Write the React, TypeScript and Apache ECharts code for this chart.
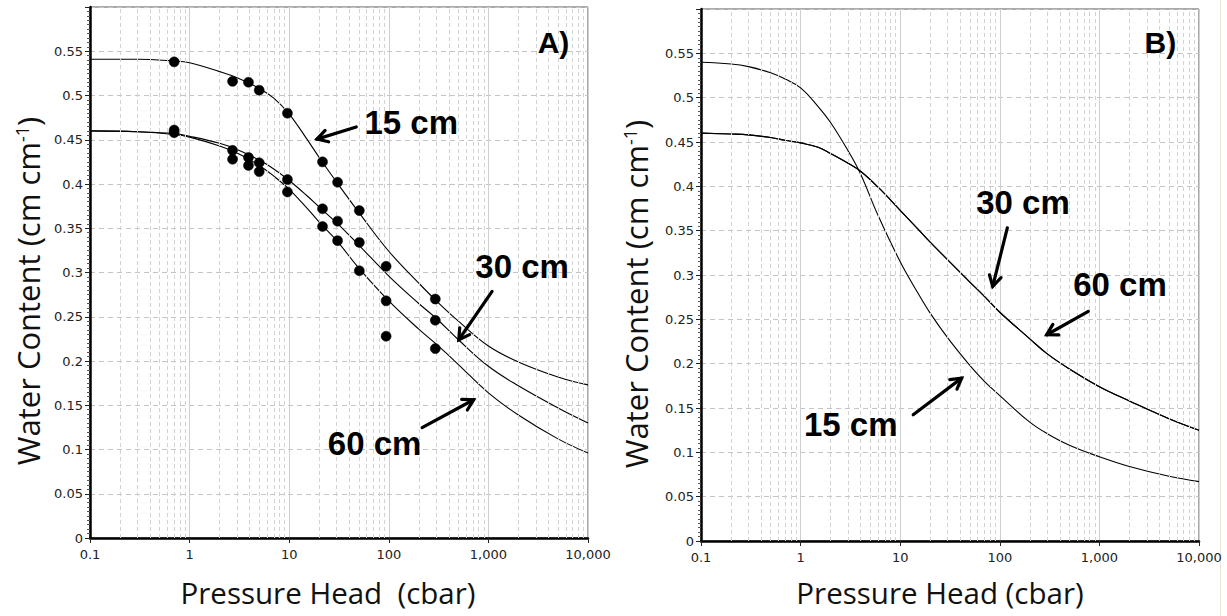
import React, { useEffect, useRef } from 'react';
import * as echarts from 'echarts';

// Pressure-axis decades and the minor grid multipliers inside each decade
const decades = [0.1, 1, 10, 100, 1000];
const minorSteps = [2, 3, 4, 5, 6, 7, 8, 9];

// Panel A: fitted retention curves (pressure head in cbar)
const fitHeadA = [0.1, 0.3, 0.7, 1, 2, 3, 5, 7, 10, 15, 20, 30, 50, 100, 200, 300, 500, 1000, 2000, 5000, 10000];
const fitA15 = [0.541, 0.541, 0.539, 0.537, 0.527, 0.52, 0.508, 0.497, 0.479, 0.451, 0.43, 0.402, 0.368, 0.324, 0.288, 0.268, 0.245, 0.217, 0.199, 0.182, 0.173];
const fitA30 = [0.46, 0.459, 0.457, 0.454, 0.446, 0.439, 0.427, 0.417, 0.404, 0.387, 0.374, 0.356, 0.331, 0.296, 0.265, 0.248, 0.224, 0.194, 0.172, 0.147, 0.13];
const fitA60 = [0.46, 0.459, 0.456, 0.453, 0.443, 0.435, 0.421, 0.409, 0.394, 0.373, 0.357, 0.336, 0.305, 0.268, 0.236, 0.219, 0.196, 0.164, 0.139, 0.112, 0.096];

// Panel A: measured water contents
const sampleHeadA = [0.7, 2.7, 3.9, 5.0, 9.6, 21.6, 30.6, 50.6, 94, 293];
const measured15 = [0.538, 0.516, 0.515, 0.506, 0.48, 0.425, 0.402, 0.37, 0.307, 0.27];
const measured30 = [0.461, 0.438, 0.43, 0.424, 0.405, 0.372, 0.358, 0.334, 0.268, 0.246];
const measured60 = [0.458, 0.428, 0.421, 0.414, 0.391, 0.352, 0.336, 0.302, 0.228, 0.214];

// Panel B: predicted curves (30 cm and 60 cm coincide)
const fitHeadB = [0.1, 0.2, 0.3, 0.5, 0.7, 1, 1.5, 2, 3, 4, 6, 10, 15, 20, 30, 50, 70, 100, 200, 300, 500, 1000, 2000, 5000, 10000];
const fitB15 = [0.54, 0.538, 0.535, 0.528, 0.521, 0.511, 0.49, 0.472, 0.44, 0.414, 0.367, 0.315, 0.28, 0.257, 0.229, 0.198, 0.18, 0.164, 0.134, 0.121, 0.108, 0.095, 0.084, 0.073, 0.067];
const fitBDeep = [0.46, 0.459, 0.458, 0.455, 0.452, 0.449, 0.444, 0.437, 0.426, 0.417, 0.399, 0.373, 0.352, 0.337, 0.317, 0.292, 0.276, 0.258, 0.228, 0.211, 0.194, 0.174, 0.158, 0.138, 0.125];

const pairs = (xs: number[], ys: number[]) => xs.map((x, i) => [x, ys[i]]);
const minorHeads = decades.flatMap((d) => minorSteps.map((m) => +(m * d).toPrecision(6)));

const tickFont = '"DejaVu Sans", Verdana, sans-serif';
const titleFont = '"Open Sans", "Noto Sans", sans-serif';
const noteFont = '"Liberation Sans", Arial, sans-serif';

type Note = { grid: number; text: string; at: [number, number]; size: number };
type Arrow = { grid: number; from: [number, number]; to: [number, number] };

// Curve labels, anchored in data coordinates (cbar, water content)
const notes: Note[] = [
  { grid: 0, text: 'A)', at: [4500, 0.56], size: 30 },
  { grid: 0, text: '15 cm', at: [168, 0.4696], size: 33 },
  { grid: 0, text: '30 cm', at: [2180, 0.307], size: 33 },
  { grid: 0, text: '60 cm', at: [72, 0.1064], size: 33 },
  { grid: 1, text: 'B)', at: [4100, 0.5624], size: 30 },
  { grid: 1, text: '30 cm', at: [171, 0.3817], size: 33 },
  { grid: 1, text: '60 cm', at: [1611, 0.289], size: 33 },
  { grid: 1, text: '15 cm', at: [3.19, 0.131], size: 33 },
];

const arrows: Arrow[] = [
  { grid: 0, from: [47.1, 0.4644], to: [19.0, 0.4507] },
  { grid: 0, from: [1089, 0.2787], to: [504, 0.224] },
  { grid: 0, from: [216, 0.1248], to: [711, 0.1562] },
  { grid: 1, from: [119, 0.3531], to: [84.9, 0.2872] },
  { grid: 1, from: [774, 0.259], to: [296, 0.2326] },
  { grid: 1, from: [13.5, 0.1423], to: [41.4, 0.1837] },
];

const grids = [
  { left: 90, top: 7, width: 498, height: 531 },
  { left: 701, top: 9, width: 498, height: 532 },
];

const xAxisFor = (gridIndex: number) => ({
  type: 'log',
  gridIndex,
  logBase: 10,
  min: 0.1,
  max: 10000,
  axisLine: { show: true, onZero: false, lineStyle: { color: '#000', width: 2.5 } },
  axisTick: { show: true, length: 5, lineStyle: { color: '#222' } },
  axisLabel: {
    margin: 10,
    color: '#222',
    fontSize: 13,
    fontFamily: tickFont,
    formatter: (v: number) => {
      const n = +v.toPrecision(6);
      return n < 1 ? String(n) : n.toLocaleString('en-US');
    },
  },
  splitLine: { show: true, lineStyle: { color: '#cfcfcf', width: 1, type: 'solid' } },
});

const yAxisFor = (gridIndex: number) => ({
  type: 'value',
  gridIndex,
  min: 0,
  max: 0.6,
  interval: 0.05,
  axisLine: { show: true, lineStyle: { color: '#000', width: 2.5 } },
  axisTick: { show: true, length: 5, lineStyle: { color: '#222' } },
  minorTick: { show: true, splitNumber: 10, length: 3, lineStyle: { color: '#555' } },
  axisLabel: {
    margin: 7,
    color: '#222',
    fontSize: 13,
    fontFamily: tickFont,
    formatter: (v: number) => (v > 0.59 ? '' : String(+v.toFixed(2))),
  },
  splitLine: { show: true, lineStyle: { color: '#c4c4c4', width: 1, type: [5, 4] } },
});

const minorGridSeries = (gridIndex: number) => ({
  type: 'line',
  xAxisIndex: gridIndex,
  yAxisIndex: gridIndex,
  data: [],
  silent: true,
  z: 1,
  markLine: {
    silent: true,
    symbol: ['none', 'none'],
    label: { show: false },
    lineStyle: { color: '#d2d2d2', width: 1, type: [4, 3] },
    data: minorHeads.map((v) => ({ xAxis: v })),
  },
});

const curve = (name: string, gridIndex: number, xs: number[], ys: number[]) => ({
  name,
  type: 'line',
  xAxisIndex: gridIndex,
  yAxisIndex: gridIndex,
  data: pairs(xs, ys),
  smooth: 0.4,
  showSymbol: false,
  symbol: 'none',
  z: 2,
  lineStyle: { color: '#000', width: 1.1 },
});

const dots = (name: string, xs: number[], ys: number[]) => ({
  name,
  type: 'scatter',
  xAxisIndex: 0,
  yAxisIndex: 0,
  data: pairs(xs, ys),
  symbol: 'circle',
  symbolSize: 10,
  z: 10,
  itemStyle: { color: '#000', opacity: 1, borderColor: '#000', borderWidth: 0.5 },
});

const option = {
  animation: false,
  backgroundColor: '#fff',
  grid: grids.map((g) => ({ ...g, show: true, borderColor: '#555', borderWidth: 1, backgroundColor: 'transparent' })),
  xAxis: [xAxisFor(0), xAxisFor(1)],
  yAxis: [yAxisFor(0), yAxisFor(1)],
  series: [
    minorGridSeries(0),
    minorGridSeries(1),
    curve('15 cm fit', 0, fitHeadA, fitA15),
    curve('30 cm fit', 0, fitHeadA, fitA30),
    curve('60 cm fit', 0, fitHeadA, fitA60),
    curve('15 cm', 1, fitHeadB, fitB15),
    curve('30 cm', 1, fitHeadB, fitBDeep),
    curve('60 cm', 1, fitHeadB, fitBDeep),
    dots('15 cm', sampleHeadA, measured15),
    dots('30 cm', sampleHeadA, measured30),
    dots('60 cm', sampleHeadA, measured60),
  ],
};

export default function App() {
  const ref = useRef<HTMLDivElement>(null);

  useEffect(() => {
    if (!ref.current) return;
    const chart = echarts.init(ref.current, null, { renderer: 'svg' });
    chart.setOption(option as any);

    const toPx = (grid: number, p: [number, number]) =>
      chart.convertToPixel({ gridIndex: grid } as any, p) as unknown as number[];

    const elements: any[] = [];

    // Axis titles
    const yTitles = [
      { x: 28, y: 291 },
      { x: 636, y: 294 },
    ];
    yTitles.forEach((t) => {
      elements.push({
        type: 'text',
        x: t.x,
        y: t.y,
        rotation: Math.PI / 2,
        silent: true,
        style: {
          text: '{a|Water Content (cm cm}{s|-1}{a|)}',
          x: 0,
          y: 0,
          align: 'center',
          verticalAlign: 'middle',
          textAlign: 'center',
          textVerticalAlign: 'middle',
          rich: {
            a: { fontSize: 31, fontFamily: titleFont, fill: '#111', color: '#111' },
            s: { fontSize: 18, fontFamily: titleFont, fill: '#111', color: '#111', verticalAlign: 'top' },
          },
        },
      });
    });
    const xTitles = [
      { x: 328, y: 592, text: 'Pressure Head  (cbar)' },
      { x: 940, y: 592, text: 'Pressure Head (cbar)' },
    ];
    xTitles.forEach((t) => {
      elements.push({
        type: 'text',
        x: t.x,
        y: t.y,
        silent: true,
        style: {
          text: t.text,
          x: 0,
          y: 0,
          font: `29.5px ${titleFont}`,
          fill: '#111',
          align: 'center',
          verticalAlign: 'middle',
          textAlign: 'center',
          textVerticalAlign: 'middle',
        },
      });
    });

    // Curve labels
    notes.forEach((n) => {
      const [px, py] = toPx(n.grid, n.at);
      elements.push({
        type: 'text',
        silent: true,
        z: 10,
        style: {
          text: n.text,
          x: px,
          y: py,
          font: `bold ${n.size}px ${noteFont}`,
          fill: '#000',
          align: 'center',
          verticalAlign: 'middle',
          textAlign: 'center',
          textVerticalAlign: 'middle',
        },
      });
    });

    // Pointer arrows with open heads
    const headLen = 12;
    const headAngle = (30 * Math.PI) / 180;
    arrows.forEach((a) => {
      const [x1, y1] = toPx(a.grid, a.from);
      const [x2, y2] = toPx(a.grid, a.to);
      const ang = Math.atan2(y2 - y1, x2 - x1);
      const w1 = [x2 - headLen * Math.cos(ang - headAngle), y2 - headLen * Math.sin(ang - headAngle)];
      const w2 = [x2 - headLen * Math.cos(ang + headAngle), y2 - headLen * Math.sin(ang + headAngle)];
      elements.push({
        type: 'line',
        silent: true,
        z: 10,
        shape: { x1, y1, x2, y2 },
        style: { stroke: '#000', lineWidth: 3.2, lineCap: 'round' },
      });
      elements.push({
        type: 'polyline',
        silent: true,
        z: 10,
        shape: { points: [w1, [x2, y2], w2] },
        style: { stroke: '#000', fill: 'none', lineWidth: 3.2, lineCap: 'round', lineJoin: 'miter' },
      });
    });

    // Faint page edge on the right
    elements.push({
      type: 'line',
      silent: true,
      shape: { x1: 1220.5, y1: 0, x2: 1220.5, y2: 616 },
      style: { stroke: '#ebe6d6', lineWidth: 1 },
    });

    chart.setOption({ graphic: elements });
    return () => chart.dispose();
  }, []);

  return (
    <div
      ref={ref}
      style={{ position: 'absolute', left: 0, top: 0, width: 1227, height: 616, background: '#fff' }}
    />
  );
}
